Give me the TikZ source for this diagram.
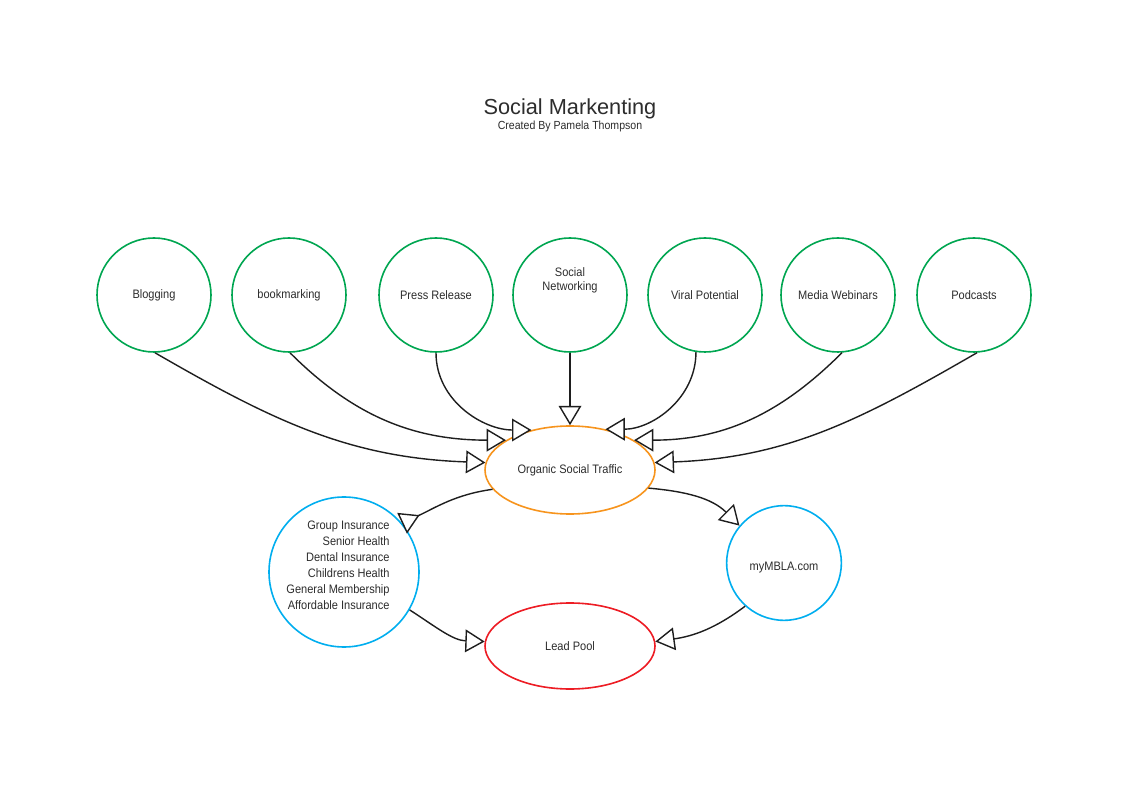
\documentclass[tikz,border=0pt]{standalone}
\usepackage{fontspec}
\setmainfont{Liberation Sans}[FakeStretch=0.9]
\newfontfamily\titlefont{Liberation Sans}
\usetikzlibrary{arrows.meta,shapes.geometric}
\definecolor{mgreen}{RGB}{0,166,81}
\definecolor{mblue}{RGB}{0,174,239}
\definecolor{morange}{RGB}{247,148,29}
\definecolor{mred}{RGB}{237,28,36}
\definecolor{tgray}{RGB}{45,45,45}
\definecolor{lgray}{RGB}{30,30,30}
\begin{document}
\begin{tikzpicture}[x=0.75pt,y=0.75pt,
  txt/.style={text=tgray, font=\fontsize{9.2}{12}\selectfont},
  topc/.style={circle, draw=mgreen, line width=1.2pt, minimum size=85.5pt, inner sep=0pt, txt},
  bluec/.style={circle, draw=mblue, line width=1.2pt, inner sep=0pt, txt},
  ell/.style={ellipse, line width=1.2pt, minimum width=127.5pt, inner sep=0pt, txt},
  conn/.style={draw=lgray, line width=1.05pt, -{Triangle[open, fill=white, length=14.5pt, width=17pt]}},
  rconn/.style={draw=lgray, line width=1.05pt, -{Triangle[open, fill=white, reversed, length=14.5pt, width=17pt]}}
]
\useasboundingbox (0,0) rectangle (1128,786);
\fill[white] (0,0) rectangle (1128,786);

\node[anchor=base, font=\titlefont\fontsize{16.3}{18}\selectfont, text=tgray] (title) at (570,671.5) {Social Markenting};
\node[anchor=base, font=\fontsize{8.8}{10}\selectfont, text=tgray] (sub) at (570,656) {Created By Pamela Thompson};

\node[topc] (blog) at (154,491) {Blogging};
\node[topc] (book) at (289,491) {bookmarking};
\node[topc] (press) at (436,491) {Press Release};
\node[topc, label={[text=tgray, font=\fontsize{9.2}{10.5}\selectfont, align=center, yshift=11.25pt]center:Social\\Networking}] (sn) at (570,491) {};
\node[topc] (viral) at (705,491) {Viral Potential};
\node[topc] (media) at (838,491) {Media Webinars};
\node[topc] (pod) at (974,491) {Podcasts};

\node[ell, draw=morange, minimum height=66pt] (ost) at (570,316) {Organic Social Traffic};
\node[ell, draw=mred, minimum height=64.5pt] (lead) at (570,140) {Lead Pool};

\node[bluec, minimum size=112.5pt, label={[txt, align=right, xshift=-4.5pt, yshift=5.25pt]center:Group Insurance\\Senior Health\\Dental Insurance\\Childrens Health\\General Membership\\Affordable Insurance}] (grp) at (344,214) {};
\node[bluec, minimum size=86pt, label={[txt, yshift=-3.5pt]center:myMBLA.com}] (mbla) at (784,223) {};

\draw[conn] (blog.-89) to[out=-30, in=178] (ost.175);
\draw[conn] (book.-89) to[out=-45, in=180] (ost.155);
\draw[conn] (press.-90) to[out=-90, in=180] (ost.134);
\draw[conn] (sn.south) -- (ost.north);
\draw[conn] (viral.-99) to[out=-90, in=0] (ost.49);
\draw[conn] (media.-86) to[out=-135, in=0] (ost.25);
\draw[conn] (pod.-87) to[out=-150, in=2] (ost.5);

\draw[rconn] (ost.194) to[out=188, in=25] (grp.40);
\draw[conn] (grp.-30) to[out=-33, in=178] (lead.177);
\draw[conn] (ost.-13) to[out=-5, in=135] (mbla.140);
\draw[conn] (mbla.-132) to[out=-143, in=8] (lead.3);
\end{tikzpicture}
\end{document}
